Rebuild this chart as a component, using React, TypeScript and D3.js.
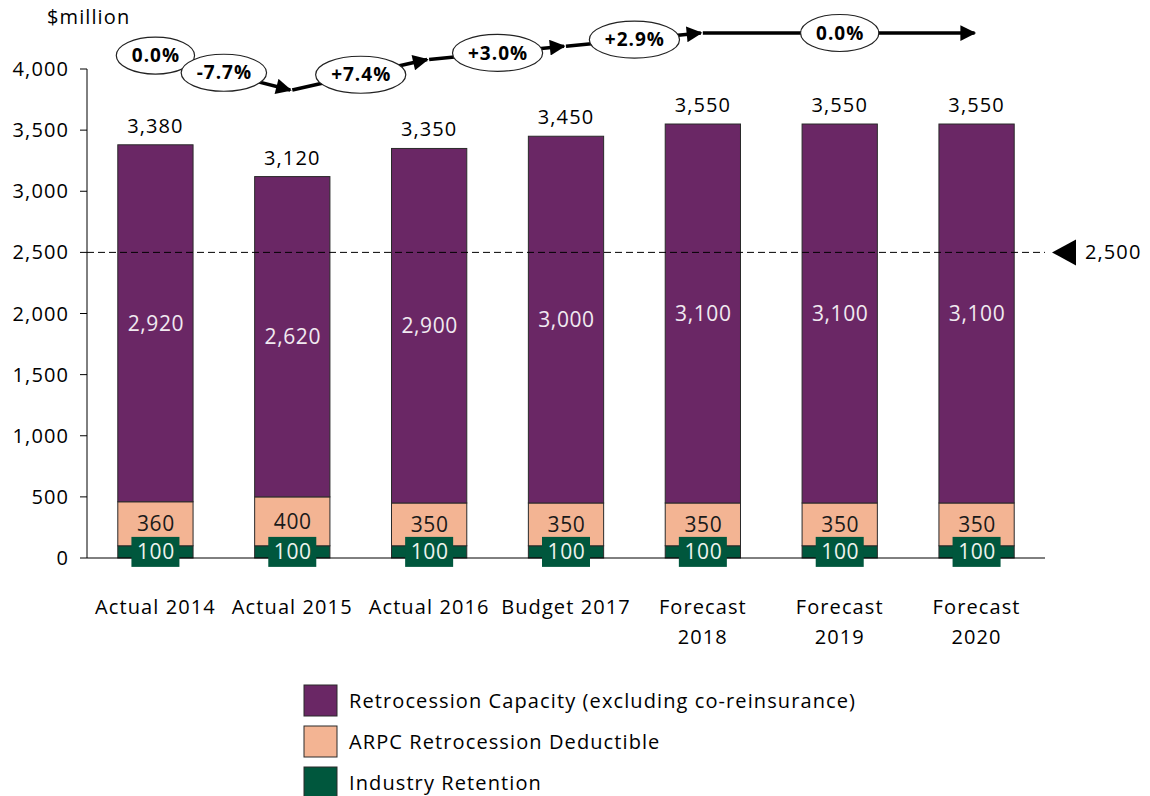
import React, { useEffect, useRef } from "react";
import * as d3 from "d3";

// chart values
const categories = [
  "Actual 2014",
  "Actual 2015",
  "Actual 2016",
  "Budget 2017",
  "Forecast 2018",
  "Forecast 2019",
  "Forecast 2020",
];
const retention = [100, 100, 100, 100, 100, 100, 100];
const deductible = [360, 400, 350, 350, 350, 350, 350];
const capacity = [2920, 2620, 2900, 3000, 3100, 3100, 3100];
const yTicks = [0, 500, 1000, 1500, 2000, 2500, 3000, 3500, 4000];
const threshold = 2500;
const changeLabels = ["0.0%", "-7.7%", "+7.4%", "+3.0%", "+2.9%", "0.0%"];
const seriesNames = [
  "Retrocession Capacity (excluding co-reinsurance)",
  "ARPC Retrocession Deductible",
  "Industry Retention",
];
const colors = ["#6a2765", "#f3b493", "#00573d"];

const W = 1150;
const H = 796;
const FONT = "'Open Sans', sans-serif";
const FS = "20px";
const LS = "1.1px";

const App = () => {
  const ref = useRef(null);

  useEffect(() => {
    document.body.style.margin = "0";
    const svg = d3.select(ref.current);
    svg.selectAll("*").remove();

    const x = d3
      .scaleBand()
      .domain(categories)
      .range([87, 1045])
      .paddingInner(0.45)
      .paddingOuter(0.225);
    const y = d3.scaleLinear().domain([0, 4000]).range([558, 69]);
    const totals = categories.map((c, i) => retention[i] + deductible[i] + capacity[i]);
    const fmt = d3.format(",");

    const g = svg
      .append("g")
      .style("font-family", FONT)
      .style("font-size", FS)
      .style("letter-spacing", LS);

    // y axis
    const yAxis = g.append("g");
    yAxis
      .append("line")
      .attr("x1", 87)
      .attr("x2", 87)
      .attr("y1", y(4000))
      .attr("y2", y(0))
      .attr("stroke", "#000");
    yTicks.forEach((t) => {
      yAxis
        .append("line")
        .attr("x1", 80)
        .attr("x2", 87)
        .attr("y1", y(t))
        .attr("y2", y(t))
        .attr("stroke", "#000");
      yAxis
        .append("text")
        .attr("x", 69)
        .attr("y", y(t))
        .attr("dy", "0.35em")
        .attr("text-anchor", "end")
        .text(fmt(t));
    });
    g.append("text")
      .attr("x", 47)
      .attr("y", 17)
      .attr("dy", "0.35em")
      .text("$million");

    // stacked bars
    const stackData = categories.map((c, i) => ({
      cat: c,
      retention: retention[i],
      deductible: deductible[i],
      capacity: capacity[i],
    }));
    const keys = ["retention", "deductible", "capacity"];
    const stacked = d3.stack().keys(keys)(stackData);
    const colorOf = { capacity: colors[0], deductible: colors[1], retention: colors[2] };

    stacked.forEach((layer) => {
      g.append("g")
        .selectAll("rect")
        .data(layer)
        .join("rect")
        .attr("x", (d) => x(d.data.cat))
        .attr("width", x.bandwidth())
        .attr("y", (d) => y(d[1]))
        .attr("height", (d) => y(d[0]) - y(d[1]))
        .attr("fill", colorOf[layer.key])
        .attr("stroke", "#2a2a2a")
        .attr("stroke-width", 1);
    });

    // x axis line
    g.append("line")
      .attr("x1", 87)
      .attr("x2", 1045)
      .attr("y1", y(0))
      .attr("y2", y(0))
      .attr("stroke", "#000");

    // segment labels
    stacked.forEach((layer) => {
      layer.forEach((d) => {
        const cx = x(d.data.cat) + x.bandwidth() / 2;
        const cy = (y(d[0]) + y(d[1])) / 2;
        const val = d[1] - d[0];
        if (layer.key === "retention") {
          g.append("rect")
            .attr("x", cx - 24)
            .attr("y", cy - 15)
            .attr("width", 48)
            .attr("height", 30)
            .attr("fill", colors[2]);
        }
        g.append("text")
          .attr("x", cx + 0.5)
          .attr("y", cy)
          .attr("dy", "0.36em")
          .attr("text-anchor", "middle")
          .style("font-size", "21px")
          .style("letter-spacing", "0.6px")
          .attr(
            "fill",
            layer.key === "capacity" ? "#f1eaf1" : layer.key === "retention" ? "#eef3ee" : "#1a1a1a"
          )
          .text(fmt(val));
      });
    });

    // totals
    categories.forEach((c, i) => {
      g.append("text")
        .attr("x", x(c) + x.bandwidth() / 2)
        .attr("y", y(totals[i]) - 12)
        .attr("text-anchor", "middle")
        .text(fmt(totals[i]));
    });

    // category labels
    categories.forEach((c) => {
      const words = c.split(" ");
      const lines = words[0] === "Forecast" ? words : [c];
      const t = g
        .append("text")
        .attr("x", x(c) + x.bandwidth() / 2)
        .attr("y", 614)
        .attr("text-anchor", "middle");
      lines.forEach((l, k) => {
        t.append("tspan")
          .attr("x", x(c) + x.bandwidth() / 2)
          .attr("dy", k === 0 ? 0 : 30)
          .text(l);
      });
    });

    // threshold line
    g.append("line")
      .attr("x1", 87)
      .attr("x2", 1045)
      .attr("y1", y(threshold))
      .attr("y2", y(threshold))
      .attr("stroke", "#000")
      .attr("stroke-dasharray", "7,4");
    g.append("path")
      .attr(
        "d",
        `M1052,${y(threshold)} L1076,${y(threshold) - 13} L1076,${y(threshold) + 13} Z`
      )
      .attr("fill", "#000");
    g.append("text")
      .attr("x", 1085)
      .attr("y", y(threshold))
      .attr("dy", "0.35em")
      .text(fmt(threshold));

    // trend annotation
    const trend = d3
      .scaleLinear()
      .domain([d3.min(totals), d3.max(totals)])
      .range([90, 33]);
    const pts = categories.map((c, i) => [x(c) + x.bandwidth() / 2, trend(totals[i])]);

    svg
      .append("defs")
      .append("marker")
      .attr("id", "ah")
      .attr("viewBox", "0 0 10 10")
      .attr("refX", 9)
      .attr("refY", 5)
      .attr("markerWidth", 5.5)
      .attr("markerHeight", 4.5)
      .attr("markerUnits", "strokeWidth")
      .attr("orient", "auto")
      .append("path")
      .attr("d", "M0,0 L10,5 L0,10 Z")
      .attr("fill", "#000");

    const segs = [
      [0, 1],
      [1, 2],
      [2, 3],
      [3, 4],
      [4, 6],
    ];
    segs.forEach(([a, b]) => {
      g.append("line")
        .attr("x1", pts[a][0])
        .attr("y1", pts[a][1])
        .attr("x2", pts[b][0] - 2)
        .attr("y2", pts[b][1])
        .attr("stroke", "#000")
        .attr("stroke-width", 3.5)
        .attr("marker-end", "url(#ah)");
    });

    const mid = (a, b) => [(pts[a][0] + pts[b][0]) / 2, (pts[a][1] + pts[b][1]) / 2];
    const ellCenters = [pts[0], mid(0, 1), mid(1, 2), mid(2, 3), mid(3, 4), pts[5]];
    ellCenters.forEach((p, i) => {
      const eg = g.append("g");
      const el = eg
        .append("ellipse")
        .attr("cx", p[0])
        .attr("cy", p[1])
        .attr("ry", 18.5)
        .attr("fill", "#fff")
        .attr("stroke", "#222")
        .attr("stroke-width", 1.2);
      const t = eg
        .append("text")
        .attr("x", p[0] + 0.5)
        .attr("y", p[1])
        .attr("dy", "0.35em")
        .attr("text-anchor", "middle")
        .style("font-size", "19px")
        .style("font-weight", "bold")
        .style("letter-spacing", "1px")
        .text(changeLabels[i]);
      const w = t.node().getComputedTextLength();
      el.attr("rx", w / 2 + 15);
    });

    // legend
    seriesNames.forEach((name, i) => {
      const ly = 685 + i * 41;
      g.append("rect")
        .attr("x", 304)
        .attr("y", ly)
        .attr("width", 33)
        .attr("height", 31)
        .attr("fill", colors[i])
        .attr("stroke", "#2a2a2a");
      g.append("text")
        .attr("x", 349)
        .attr("y", ly + 16)
        .attr("dy", "0.35em")
        .text(name);
    });
  }, []);

  return <svg ref={ref} width={W} height={H} style={{ display: "block", background: "#fff" }} />;
};

export default App;
